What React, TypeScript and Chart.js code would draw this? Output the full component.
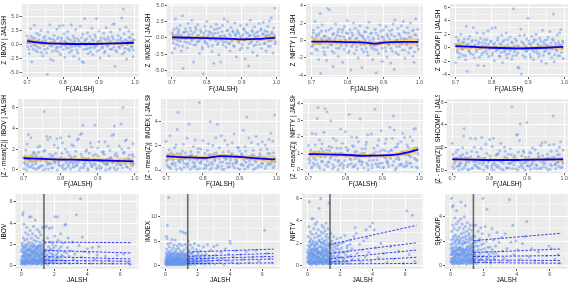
import React, { useEffect, useRef } from 'react';
import { Chart, registerables } from 'chart.js';
Chart.register(...registerables);

type Pt = [number, number];

// ---------------- DATA ----------------
const markets = ['IBOV', 'IMOEX', 'NIFTY', 'SHCOMP'];

// Row 1: Z of market | JALSH vs F(JALSH)
const ibovZ: Pt[] = [[0.700,1.5],[0.702,-0.4],[0.704,0.9],[0.706,-1.6],[0.708,0.3],[0.71,2.8],[0.711,1.4],[0.713,-3.1],[0.715,0.6],[0.717,-0.8],[0.72,3.4],[0.722,1.1],[0.724,-0.2],[0.727,2.0],[0.729,-1.3],[0.731,0.4],[0.734,1.7],[0.736,-0.6],[0.739,2.5],[0.741,0.1],[0.744,-2.0],[0.746,1.2],[0.749,-0.9],[0.751,0.7],[0.754,-1.5],[0.756,-5.3],[0.758,2.2],[0.76,0.2],[0.763,3.5],[0.765,-2.6],[0.767,1.0],[0.77,-0.3],[0.772,-2.8],[0.775,1.6],[0.777,0.5],[0.78,-1.1],[0.783,2.7],[0.785,-0.5],[0.788,1.3],[0.79,3.3],[0.793,-1.8],[0.795,0.8],[0.798,-0.1],[0.80,3.4],[0.803,1.9],[0.805,-2.3],[0.808,0.4],[0.81,-0.7],[0.813,2.3],[0.815,1.0],[0.818,-1.4],[0.82,0.0],[0.823,3.5],[0.825,-0.4],[0.828,1.5],[0.83,-2.1],[0.833,0.6],[0.835,2.6],[0.838,-1.0],[0.84,1.1],[0.843,-0.2],[0.845,-2.6],[0.848,3.3],[0.85,0.3],[0.853,-3.1],[0.855,1.8],[0.857,-3.2],[0.86,4.6],[0.862,0.9],[0.865,-0.8],[0.868,2.1],[0.87,-1.6],[0.873,0.2],[0.875,1.4],[0.878,-0.5],[0.88,2.9],[0.883,-1.9],[0.885,0.7],[0.888,1.7],[0.89,-0.3],[0.893,4.6],[0.895,-1.2],[0.898,0.5],[0.90,2.4],[0.903,-2.4],[0.905,1.2],[0.908,-0.6],[0.91,0.1],[0.913,2.0],[0.915,-1.5],[0.918,0.9],[0.92,3.0],[0.923,-0.2],[0.925,1.3],[0.928,-2.0],[0.93,0.4],[0.933,2.2],[0.935,-0.9],[0.938,3.6],[0.94,1.0],[0.943,3.7],[0.945,-3.9],[0.948,0.3],[0.95,-1.3],[0.953,1.6],[0.955,-0.4],[0.958,2.6],[0.96,0.8],[0.963,4.7],[0.965,-1.7],[0.968,6.3],[0.97,1.9],[0.972,-0.7],[0.975,3.1],[0.977,-2.6],[0.98,0.6],[0.983,2.4],[0.985,-1.1],[0.988,1.2],[0.99,-0.3],[0.993,1.8],[0.995,-2.2],[0.997,0.9]];
const ibovZMore: Pt[] = [[0.701,0.2],[0.705,-0.9],[0.709,0.7],[0.712,-0.3],[0.716,1.2],[0.719,0.0],[0.723,-1.1],[0.726,0.5],[0.73,-0.5],[0.733,0.9],[0.737,0.2],[0.74,-1.4],[0.743,0.6],[0.747,-0.1],[0.75,1.4],[0.753,0.3],[0.757,-0.7],[0.761,1.1],[0.764,-0.2],[0.768,0.4],[0.771,-1.2],[0.774,0.9],[0.778,0.1],[0.781,-0.6],[0.784,1.0],[0.787,-1.3],[0.791,0.3],[0.794,-0.4],[0.797,1.2],[0.801,-0.9],[0.804,0.6],[0.807,-0.2],[0.811,1.3],[0.814,0.2],[0.817,-0.6],[0.821,0.8],[0.824,-1.1],[0.827,0.4],[0.831,1.1],[0.834,-0.3],[0.837,0.0],[0.841,-1.5],[0.844,0.7],[0.847,-0.4],[0.851,1.2],[0.854,0.1],[0.858,-0.9],[0.861,0.5],[0.864,-0.1],[0.867,1.0],[0.871,-0.7],[0.874,0.3],[0.877,-1.3],[0.881,0.9],[0.884,0.0],[0.887,-0.6],[0.891,1.3],[0.894,-0.2],[0.897,0.4],[0.901,-1.0],[0.904,0.7],[0.907,0.2],[0.911,-0.5],[0.914,1.1],[0.917,-1.2],[0.921,0.3],[0.924,-0.3],[0.927,0.9],[0.931,-0.8],[0.934,0.5],[0.937,1.4],[0.941,-0.5],[0.944,0.1],[0.947,-1.1],[0.951,0.8],[0.954,0.2],[0.957,-0.6],[0.961,1.2],[0.964,-0.2],[0.967,0.5],[0.971,-1.4],[0.974,0.9],[0.978,0.0],[0.981,-0.8],[0.984,1.3],[0.987,0.4],[0.991,-0.5],[0.994,0.7],[0.996,-1.0]];
const imoexZ: Pt[] = [[0.70,-2.3],[0.702,0.5],[0.704,-0.8],[0.706,1.3],[0.708,-1.6],[0.71,2.9],[0.712,0.2],[0.714,1.5],[0.716,-0.4],[0.718,0.9],[0.72,-1.2],[0.723,1.9],[0.725,0.4],[0.727,-2.0],[0.73,3.4],[0.732,-4.7],[0.734,0.8],[0.737,-0.6],[0.739,1.4],[0.742,0.1],[0.744,-1.5],[0.747,2.2],[0.749,0.6],[0.752,-0.9],[0.754,1.1],[0.757,2.7],[0.759,-0.2],[0.762,-3.7],[0.764,0.9],[0.767,1.6],[0.769,-1.1],[0.772,0.3],[0.774,2.0],[0.777,-0.5],[0.779,-2.4],[0.782,1.2],[0.784,0.0],[0.787,-1.7],[0.79,-5.5],[0.792,0.7],[0.795,1.8],[0.797,-0.7],[0.80,2.5],[0.802,0.2],[0.805,-1.3],[0.807,1.0],[0.81,-0.3],[0.812,1.7],[0.815,-2.1],[0.817,0.5],[0.82,-3.9],[0.822,1.3],[0.825,-0.1],[0.827,2.1],[0.83,-1.0],[0.832,0.8],[0.835,-2.6],[0.837,1.5],[0.84,-3.7],[0.842,0.3],[0.845,1.9],[0.847,-0.6],[0.85,2.9],[0.852,0.1],[0.855,-1.4],[0.857,1.1],[0.86,2.5],[0.862,-0.8],[0.865,0.6],[0.867,-2.0],[0.87,1.6],[0.872,-0.2],[0.875,0.9],[0.877,-1.2],[0.88,2.3],[0.882,0.4],[0.885,-2.9],[0.887,1.2],[0.89,-0.5],[0.892,0.7],[0.895,-1.8],[0.897,1.9],[0.90,0.0],[0.902,-1.0],[0.905,1.4],[0.907,-0.4],[0.91,-3.2],[0.912,0.9],[0.915,2.0],[0.917,-1.5],[0.92,-4.3],[0.922,0.3],[0.925,2.7],[0.927,-0.7],[0.93,1.2],[0.932,-2.2],[0.935,0.5],[0.937,1.7],[0.94,-1.1],[0.942,0.2],[0.945,-2.7],[0.947,1.0],[0.95,2.2],[0.952,-0.3],[0.955,1.4],[0.957,-1.6],[0.96,0.6],[0.962,2.4],[0.965,-0.9],[0.967,1.1],[0.97,-2.0],[0.972,0.4],[0.975,1.8],[0.977,-0.5],[0.98,2.6],[0.982,-1.3],[0.985,3.1],[0.987,0.7],[0.99,-2.3],[0.992,1.5],[0.995,4.6],[0.997,-0.6]];
const imoexZMore: Pt[] = [[0.701,0.8],[0.705,-0.2],[0.709,0.3],[0.713,-1.0],[0.717,0.6],[0.72,1.2],[0.724,-0.5],[0.728,0.1],[0.731,-1.3],[0.735,0.9],[0.738,-0.1],[0.742,1.0],[0.745,-0.7],[0.749,0.3],[0.752,1.5],[0.756,-0.4],[0.759,0.6],[0.763,-1.1],[0.766,0.0],[0.77,1.3],[0.773,-0.6],[0.777,0.4],[0.78,-0.2],[0.784,0.9],[0.787,-1.4],[0.791,0.2],[0.794,-0.5],[0.798,1.1],[0.801,-0.9],[0.805,0.5],[0.808,-0.1],[0.812,0.8],[0.816,-1.2],[0.819,0.1],[0.823,0.7],[0.826,-0.4],[0.83,1.4],[0.833,-0.8],[0.837,0.2],[0.84,-0.3],[0.844,1.0],[0.847,-1.1],[0.851,0.4],[0.854,-0.6],[0.858,0.0],[0.861,1.2],[0.865,-0.9],[0.868,0.3],[0.872,-0.5],[0.875,1.1],[0.879,-1.3],[0.882,0.6],[0.886,-0.1],[0.889,0.9],[0.893,-0.7],[0.896,0.2],[0.9,-1.5],[0.903,0.5],[0.907,1.3],[0.91,-0.3],[0.914,0.0],[0.917,0.7],[0.921,-0.9],[0.924,0.4],[0.928,-0.4],[0.931,1.0],[0.935,-1.2],[0.938,0.1],[0.942,0.8],[0.945,-0.6],[0.949,0.3],[0.952,-1.0],[0.956,1.2],[0.959,-0.2],[0.963,0.6],[0.966,-0.8],[0.97,0.2],[0.973,1.0],[0.977,-1.3],[0.98,0.5],[0.984,-0.4],[0.987,0.9],[0.991,-0.1],[0.994,0.4],[0.996,-0.9]];
const niftyZ: Pt[] = [[0.70,-1.5],[0.702,0.4],[0.704,-0.6],[0.706,1.2],[0.708,0.1],[0.71,2.2],[0.712,-1.0],[0.714,0.7],[0.716,-0.3],[0.718,1.5],[0.72,-2.2],[0.722,0.9],[0.724,3.1],[0.726,-3.8],[0.728,0.2],[0.73,1.8],[0.733,-0.8],[0.735,0.5],[0.737,-1.6],[0.74,1.1],[0.742,-2.3],[0.745,3.7],[0.747,0.3],[0.75,3.5],[0.752,-0.5],[0.755,1.4],[0.757,-1.2],[0.76,-3.0],[0.762,0.8],[0.765,-0.1],[0.767,1.9],[0.77,-0.9],[0.772,0.6],[0.775,-1.8],[0.777,1.3],[0.78,0.0],[0.782,-0.6],[0.785,1.0],[0.787,-2.5],[0.79,0.4],[0.792,1.6],[0.795,-0.3],[0.797,0.9],[0.80,2.3],[0.802,-1.4],[0.805,0.2],[0.807,1.2],[0.81,-3.4],[0.812,-0.7],[0.815,0.6],[0.817,2.0],[0.82,-0.2],[0.822,1.4],[0.825,-1.1],[0.827,0.3],[0.83,-2.0],[0.832,0.8],[0.835,1.7],[0.837,-0.5],[0.84,-3.1],[0.842,0.5],[0.845,-1.3],[0.847,1.0],[0.85,0.1],[0.852,-0.9],[0.855,1.5],[0.857,-1.7],[0.86,2.1],[0.862,0.0],[0.865,-0.6],[0.867,0.9],[0.87,-2.2],[0.872,0.3],[0.875,-1.0],[0.877,1.3],[0.88,-3.7],[0.882,-0.4],[0.885,0.6],[0.887,-1.5],[0.89,1.8],[0.892,-0.2],[0.895,0.4],[0.897,-2.4],[0.90,1.2],[0.902,0.1],[0.905,-0.8],[0.907,1.6],[0.91,-1.9],[0.912,0.5],[0.915,-0.4],[0.917,1.1],[0.92,-2.6],[0.922,0.7],[0.925,-1.2],[0.927,1.9],[0.93,-3.3],[0.932,2.4],[0.935,0.0],[0.937,-0.7],[0.94,1.4],[0.942,-1.6],[0.945,0.6],[0.947,-0.3],[0.95,1.7],[0.952,-1.1],[0.955,2.2],[0.957,0.2],[0.96,-2.0],[0.962,0.9],[0.965,-0.5],[0.967,1.5],[0.97,-1.4],[0.972,0.4],[0.975,2.0],[0.977,-0.8],[0.98,1.1],[0.982,-1.8],[0.985,-2.5],[0.987,0.7],[0.99,2.5],[0.992,-0.2],[0.995,1.3],[0.997,-1.0]];
const niftyZMore: Pt[] = [[0.701,-0.7],[0.705,0.9],[0.709,-0.2],[0.713,0.4],[0.717,-1.1],[0.72,0.6],[0.724,-0.4],[0.728,1.1],[0.731,-0.1],[0.735,-1.3],[0.738,0.5],[0.742,0.0],[0.745,-0.8],[0.749,1.2],[0.752,0.2],[0.756,-0.5],[0.759,0.7],[0.763,-1.4],[0.766,0.3],[0.77,-0.2],[0.773,1.0],[0.777,-0.9],[0.78,0.5],[0.784,-0.3],[0.787,1.3],[0.791,-1.0],[0.794,0.1],[0.798,-0.6],[0.801,0.8],[0.805,-1.2],[0.808,0.3],[0.812,0.9],[0.816,-0.4],[0.819,-1.5],[0.823,0.2],[0.826,-0.7],[0.83,1.1],[0.833,-0.1],[0.837,0.6],[0.84,-1.0],[0.844,0.3],[0.847,-0.5],[0.851,1.0],[0.854,-1.3],[0.858,0.4],[0.861,-0.3],[0.865,0.8],[0.868,-0.9],[0.872,0.1],[0.875,-0.6],[0.879,0.9],[0.882,-1.1],[0.886,0.2],[0.889,-0.4],[0.893,1.1],[0.896,-0.9],[0.9,0.4],[0.903,-0.2],[0.907,-1.2],[0.91,0.7],[0.914,-0.5],[0.917,0.2],[0.921,-0.9],[0.924,1.2],[0.928,-0.3],[0.931,0.5],[0.935,-1.4],[0.938,0.1],[0.942,0.8],[0.945,-0.7],[0.949,0.3],[0.952,-0.4],[0.956,1.0],[0.959,-1.1],[0.963,0.2],[0.966,-0.3],[0.97,0.9],[0.973,-0.9],[0.977,0.4],[0.98,-0.2],[0.984,1.2],[0.987,-1.3],[0.991,0.6],[0.994,-0.6],[0.996,0.1]];
const shcompZ: Pt[] = [[0.70,-2.2],[0.702,1.6],[0.704,0.3],[0.706,-0.7],[0.708,1.0],[0.71,-1.4],[0.712,0.5],[0.715,2.0],[0.717,-0.2],[0.719,0.8],[0.721,-1.1],[0.724,1.3],[0.726,0.1],[0.728,-1.8],[0.73,3.2],[0.732,-3.5],[0.735,0.6],[0.737,-0.4],[0.739,1.7],[0.742,-0.9],[0.744,0.2],[0.747,1.1],[0.749,3.0],[0.752,-1.5],[0.754,0.4],[0.757,-0.6],[0.759,2.2],[0.762,-2.6],[0.764,0.9],[0.767,-0.1],[0.769,1.4],[0.772,-1.0],[0.774,0.3],[0.777,2.1],[0.779,-2.7],[0.782,0.7],[0.784,-0.5],[0.787,1.2],[0.79,2.5],[0.792,-1.3],[0.795,0.0],[0.797,0.9],[0.80,2.9],[0.802,-0.8],[0.805,0.5],[0.807,-1.9],[0.81,3.0],[0.812,0.2],[0.815,-0.3],[0.817,1.5],[0.82,-1.2],[0.822,0.6],[0.825,-0.7],[0.827,1.9],[0.83,-2.2],[0.832,0.1],[0.835,1.1],[0.837,-0.4],[0.84,2.2],[0.842,-1.5],[0.845,0.4],[0.847,-0.9],[0.85,1.6],[0.852,0.0],[0.855,-1.7],[0.857,0.8],[0.86,5.8],[0.862,-0.6],[0.865,1.3],[0.867,-1.1],[0.87,0.3],[0.872,-2.9],[0.875,-3.0],[0.877,1.8],[0.88,2.8],[0.882,-3.9],[0.885,-0.2],[0.887,0.7],[0.89,1.9],[0.892,-1.4],[0.895,0.2],[0.897,-0.5],[0.90,4.4],[0.902,1.0],[0.905,-1.0],[0.907,0.5],[0.91,1.7],[0.912,-0.3],[0.915,-1.8],[0.917,1.2],[0.92,0.0],[0.922,2.0],[0.925,-0.8],[0.927,0.6],[0.93,-1.3],[0.932,1.4],[0.935,0.3],[0.937,-2.0],[0.94,2.6],[0.942,0.8],[0.945,-0.6],[0.947,1.1],[0.95,-2.3],[0.952,0.4],[0.955,1.6],[0.957,-0.9],[0.96,2.4],[0.962,0.1],[0.965,-1.5],[0.967,1.3],[0.97,5.0],[0.972,-2.1],[0.975,0.7],[0.977,-0.3],[0.98,1.9],[0.982,-1.2],[0.985,0.5],[0.987,2.2],[0.99,2.7],[0.992,-0.7],[0.995,1.0],[0.997,-1.6]];
const shcompZMore: Pt[] = [[0.701,0.5],[0.705,-0.4],[0.709,1.2],[0.713,-0.9],[0.717,0.2],[0.72,-0.2],[0.724,0.8],[0.728,-1.2],[0.731,0.4],[0.735,1.3],[0.738,-0.6],[0.742,0.1],[0.745,0.9],[0.749,-1.0],[0.752,0.3],[0.756,1.1],[0.759,-0.3],[0.763,0.6],[0.766,-1.4],[0.77,0.0],[0.773,0.8],[0.777,-0.7],[0.78,1.2],[0.784,0.2],[0.787,-0.9],[0.791,0.5],[0.794,-0.2],[0.798,1.0],[0.801,-1.1],[0.805,0.1],[0.808,0.7],[0.812,-0.5],[0.816,1.1],[0.819,-0.1],[0.823,-1.3],[0.826,0.4],[0.83,0.9],[0.833,-0.6],[0.837,0.2],[0.84,-1.0],[0.844,1.2],[0.847,0.0],[0.851,-0.4],[0.854,0.8],[0.858,-1.2],[0.861,0.3],[0.865,-0.3],[0.868,1.0],[0.872,-0.8],[0.875,0.2],[0.879,-0.1],[0.882,0.9],[0.886,-1.1],[0.889,0.4],[0.893,-0.5],[0.896,1.3],[0.9,-0.2],[0.903,0.6],[0.907,-1.4],[0.91,0.1],[0.914,0.8],[0.917,-0.6],[0.921,1.1],[0.924,-0.3],[0.928,0.3],[0.931,-0.9],[0.935,1.0],[0.938,0.0],[0.942,-1.1],[0.945,0.5],[0.949,-0.4],[0.952,1.2],[0.956,0.2],[0.959,-0.8],[0.963,0.7],[0.966,-0.2],[0.97,1.1],[0.973,-1.0],[0.977,0.3],[0.98,-0.5],[0.984,0.9],[0.987,-1.2],[0.991,0.4],[0.994,-0.1],[0.996,0.8]];

// Loess fits (blue line) with confidence half-width (orange band)
const smoothF = [0.70, 0.75, 0.80, 0.85, 0.875, 0.90, 0.95, 0.997];
const ibovFit1 = [0.58, 0.22, 0.12, 0.08, 0.08, 0.1, 0.18, 0.3];
const ibovSe1 = [0.55, 0.32, 0.27, 0.27, 0.27, 0.27, 0.3, 0.5];
const imoexFit1 = [0.08, 0.02, -0.05, -0.1, -0.16, -0.22, -0.15, 0.05];
const imoexSe1 = [0.45, 0.3, 0.27, 0.27, 0.27, 0.27, 0.3, 0.45];
const niftyFit1 = [-0.12, -0.14, -0.18, -0.25, -0.36, -0.24, -0.16, -0.15];
const niftySe1 = [0.45, 0.32, 0.28, 0.28, 0.28, 0.28, 0.32, 0.45];
const shcompFit1 = [0.22, 0.12, 0.0, -0.08, -0.1, -0.08, 0.0, 0.12];
const shcompSe1 = [0.45, 0.3, 0.27, 0.27, 0.27, 0.27, 0.3, 0.45];

const ibovFit2 = [1.12, 1.06, 1.0, 0.97, 0.95, 0.93, 0.88, 0.82];
const ibovSe2 = [0.35, 0.22, 0.19, 0.19, 0.19, 0.19, 0.22, 0.33];
const imoexFit2 = [1.12, 1.05, 1.0, 1.14, 1.13, 1.08, 0.96, 0.88];
const imoexSe2 = [0.33, 0.2, 0.17, 0.17, 0.17, 0.17, 0.2, 0.33];
const niftyFit2 = [0.96, 0.95, 0.92, 0.86, 0.87, 0.88, 0.98, 1.24];
const niftySe2 = [0.22, 0.14, 0.12, 0.12, 0.12, 0.12, 0.14, 0.24];
const shcompFit2 = [0.97, 0.93, 0.9, 0.9, 0.9, 0.92, 0.94, 0.97];
const shcompSe2 = [0.24, 0.15, 0.13, 0.13, 0.13, 0.13, 0.15, 0.24];

// Row 3: |market| vs |JALSH|
const ibovJ: Pt[] = [[0.02,0.1],[0.04,0.6],[0.05,1.3],[0.06,2.1],[0.08,0.3],[0.09,4.8],[0.1,1.7],[0.11,0.9],[0.12,5.0],[0.13,2.6],[0.14,0.2],[0.16,1.1],[0.17,3.9],[0.18,0.5],[0.2,1.9],[0.21,0.1],[0.22,2.4],[0.24,0.8],[0.25,1.4],[0.27,3.1],[0.28,0.3],[0.3,2.0],[0.31,0.6],[0.33,1.2],[0.34,3.6],[0.36,0.1],[0.37,2.5],[0.39,0.9],[0.4,1.6],[0.42,0.4],[0.43,2.9],[0.45,1.0],[0.46,0.2],[0.48,2.2],[0.5,4.6],[0.51,0.7],[0.53,1.5],[0.54,3.3],[0.56,0.3],[0.57,1.9],[0.59,0.9],[0.6,4.6],[0.62,2.6],[0.63,0.1],[0.65,1.3],[0.66,2.1],[0.68,0.5],[0.69,3.0],[0.71,1.1],[0.72,0.2],[0.74,1.8],[0.75,3.7],[0.77,0.6],[0.78,2.4],[0.8,1.4],[0.81,0.3],[0.83,2.0],[0.85,4.3],[0.86,0.8],[0.88,1.6],[0.89,2.8],[0.91,0.4],[0.92,1.2],[0.94,2.3],[0.95,0.1],[0.97,3.4],[0.98,0.9],[1.0,1.7],[1.02,0.5],[1.03,2.6],[1.05,1.0],[1.06,0.2],[1.08,1.9],[1.1,3.2],[1.11,0.7],[1.13,1.4],[1.14,2.2],[1.16,0.3],[1.18,1.1],[1.19,2.9],[1.21,0.6],[1.22,1.6],[1.24,0.1],[1.26,2.0],[1.27,0.9],[1.29,3.6],[1.3,1.3],[1.32,0.4],[1.34,2.4],
  [0.03,0.3],[0.07,0.8],[0.15,0.4],[0.19,1.2],[0.23,0.2],[0.26,1.0],[0.32,0.5],[0.35,1.5],[0.38,0.3],[0.41,1.1],[0.44,0.6],[0.47,1.4],[0.52,0.2],[0.55,1.0],[0.58,0.5],[0.61,1.2],[0.64,0.4],[0.67,1.6],[0.7,0.7],[0.73,0.3],[0.76,1.2],[0.79,0.5],[0.82,0.9],[0.84,0.2],[0.87,1.3],[0.9,0.6],[0.93,1.7],[0.96,0.4],[0.99,1.1],[1.01,0.3],[1.04,1.5],[1.07,0.6],[1.09,0.2],[1.12,1.0],[1.15,0.5],[1.17,1.8],[1.2,0.4],[1.23,1.1],[1.25,0.6],[1.28,0.2],[1.31,1.0],[1.33,0.7],
  [1.37,0.3],[1.39,1.2],[1.41,3.6],[1.43,0.7],[1.45,2.1],[1.47,0.2],[1.5,1.5],[1.52,3.7],[1.55,0.5],[1.57,1.0],[1.6,2.6],[1.62,0.1],[1.65,1.8],[1.68,0.6],[1.7,3.5],[1.73,1.2],[1.75,0.3],[1.78,2.2],[1.8,0.8],[1.83,1.5],[1.86,3.6],[1.88,0.4],[1.9,2.0],[1.93,1.0],[1.96,0.2],[2.0,1.4],[2.03,2.8],[2.05,4.6],[2.08,0.6],[2.1,1.9],[2.14,0.3],[2.18,1.1],[2.2,4.6],[2.23,2.4],[2.27,0.8],[2.3,1.6],[2.35,0.2],[2.4,3.0],[2.44,1.0],[2.5,0.5],[2.55,2.1],[2.6,1.3],[2.65,3.8],[2.7,3.9],[2.72,0.4],[2.8,1.7],[2.85,2.6],[2.9,0.9],[2.95,0.2],[3.0,1.4],[3.1,2.2],[3.15,0.6],[3.25,1.1],[3.35,4.8],[3.4,0.3],[3.5,1.9],[3.6,6.3],[3.65,0.8],[3.7,2.7],[3.8,1.3],[3.9,0.4],[4.0,1.6],[4.1,1.2],[4.2,0.2],[4.3,1.7],[4.45,0.6],[4.6,1.0],[4.7,1.8],[4.9,0.3],[5.1,0.9],[5.3,0.5],[5.5,0.2],[5.8,1.0],[6.0,0.4],[6.2,1.1],[6.45,0.3],[6.6,0.1]];
const ibovJMore: Pt[] = [[0.01,0.5],[0.03,1.5],[0.05,0.2],[0.07,1.9],[0.09,0.9],[0.11,0.4],[0.13,1.3],[0.15,0.7],[0.17,1.6],[0.19,0.2],[0.21,0.9],[0.23,1.7],[0.25,0.4],[0.27,1.2],[0.29,0.7],[0.31,1.8],[0.33,0.3],[0.35,0.9],[0.37,1.4],[0.39,0.5],[0.41,2.0],[0.43,0.8],[0.45,1.5],[0.47,0.3],[0.49,1.0],[0.51,1.7],[0.53,0.4],[0.55,1.3],[0.57,0.8],[0.59,1.5],[0.61,0.3],[0.63,1.0],[0.65,1.8],[0.67,0.6],[0.69,1.3],[0.71,0.4],[0.73,1.9],[0.75,0.8],[0.77,1.4],[0.79,0.2],[0.81,1.1],[0.83,0.6],[0.85,1.7],[0.87,0.3],[0.89,1.0],[0.91,1.5],[0.93,0.5],[0.95,1.2],[0.97,0.2],[0.99,1.8],[1.01,0.8],[1.03,1.3],[1.05,0.5],[1.07,1.9],[1.09,0.9],[1.11,0.3],[1.13,1.6],[1.15,0.8],[1.17,1.2],[1.19,0.4],[1.21,1.9],[1.23,0.7],[1.25,1.4],[1.27,0.3],[1.29,1.1],[1.31,1.7],[1.33,0.5],[1.35,1.3],
  [1.38,0.9],[1.42,0.5],[1.46,1.3],[1.5,0.3],[1.54,1.0],[1.58,0.6],[1.63,1.4],[1.67,0.3],[1.72,0.8],[1.77,1.6],[1.82,0.4],[1.87,1.1],[1.92,0.6],[1.98,1.7],[2.04,0.4],[2.1,1.0],[2.16,0.7],[2.25,1.3],[2.33,0.5],[2.42,1.8],[2.52,0.9],[2.62,0.3],[2.75,1.2]];
const imoexJ: Pt[] = [[0.02,0.2],[0.03,1.1],[0.04,2.6],[0.05,6.0],[0.06,0.5],[0.07,3.4],[0.08,1.6],[0.09,0.1],[0.1,5.5],[0.11,2.1],[0.12,8.2],[0.13,0.8],[0.14,4.4],[0.15,1.3],[0.16,0.3],[0.18,2.9],[0.19,0.6],[0.2,13.9],[0.21,1.8],[0.22,0.2],[0.24,3.8],[0.25,1.0],[0.26,2.4],[0.28,0.4],[0.29,1.5],[0.3,4.6],[0.32,0.1],[0.33,2.0],[0.35,0.7],[0.36,3.1],[0.38,1.2],[0.39,0.3],[0.4,5.3],[0.41,2.5],[0.43,0.9],[0.44,1.7],[0.46,0.2],[0.47,3.6],[0.49,1.1],[0.5,0.5],[0.52,2.2],[0.53,4.2],[0.55,0.8],[0.56,1.4],[0.58,0.1],[0.59,2.8],[0.6,5.2],[0.62,1.0],[0.63,0.4],[0.65,1.9],[0.66,3.3],[0.68,0.6],[0.69,1.3],[0.71,2.6],[0.72,0.2],[0.74,4.0],[0.75,1.6],[0.77,0.7],[0.78,2.1],[0.8,0.3],[0.81,3.5],[0.83,1.1],[0.84,0.5],[0.86,2.4],[0.87,4.4],[0.89,0.9],[0.9,1.8],[0.92,0.1],[0.93,3.0],[0.95,7.0],[0.96,1.2],[0.98,0.4],[0.99,2.3],[1.01,0.8],[1.02,4.1],[1.04,1.5],[1.05,0.2],[1.07,2.7],[1.08,1.0],[1.1,6.8],[1.11,0.6],[1.13,1.9],[1.14,3.2],[1.16,0.3],[1.17,1.4],[1.19,2.2],[1.2,0.7],[1.22,4.3],[1.23,1.1],[1.25,6.6],[1.26,0.4],[1.28,2.0],[1.29,0.9],[1.31,3.6],[1.32,1.5],[1.34,0.2],
  [0.01,0.6],[0.06,1.4],[0.11,0.4],[0.17,1.0],[0.23,0.6],[0.27,1.3],[0.31,0.3],[0.34,0.9],[0.37,1.6],[0.42,0.5],[0.45,1.2],[0.48,0.3],[0.51,0.9],[0.54,1.5],[0.57,0.4],[0.61,0.7],[0.64,1.2],[0.67,0.3],[0.7,0.9],[0.73,1.4],[0.76,0.4],[0.79,1.0],[0.82,0.6],[0.85,1.3],[0.88,0.2],[0.91,0.8],[0.94,1.5],[0.97,0.6],[1.0,1.1],[1.03,0.3],[1.06,1.3],[1.09,0.5],[1.12,1.0],[1.15,0.7],[1.18,0.2],[1.21,1.2],[1.24,0.5],[1.27,1.0],[1.3,0.3],[1.33,0.8],
  [1.37,0.4],[1.39,2.3],[1.42,5.0],[1.44,1.0],[1.46,3.1],[1.49,0.2],[1.51,1.6],[1.54,4.2],[1.56,0.7],[1.59,2.5],[1.62,1.2],[1.64,0.3],[1.67,3.6],[1.7,1.8],[1.72,0.5],[1.75,2.8],[1.78,1.1],[1.8,4.5],[1.83,0.2],[1.86,2.0],[1.89,0.9],[1.92,3.3],[1.95,1.4],[1.98,0.4],[2.02,2.6],[2.05,4.1],[2.08,0.8],[2.12,1.7],[2.15,3.0],[2.18,0.3],[2.22,1.2],[2.26,2.2],[2.3,0.6],[2.35,3.8],[2.4,1.5],[2.45,0.2],[2.5,2.4],[2.56,1.0],[2.6,4.3],[2.66,0.5],[2.72,1.9],[2.8,3.1],[2.86,0.9],[2.92,1.6],[3.0,3.9],[3.05,0.3],[3.12,2.1],[3.2,4.2],[3.28,1.2],[3.35,0.6],[3.45,2.7],[3.55,1.5],[3.62,0.2],[3.7,3.4],[3.8,1.0],[3.9,2.3],[4.0,5.0],[4.02,4.5],[4.1,0.7],[4.2,1.8],[4.35,3.0],[4.5,0.4],[4.65,2.2],[4.8,1.3],[5.0,2.8],[5.2,0.6],[5.4,1.7],[5.6,3.1],[5.8,0.9],[6.0,1.8],[6.15,7.2],[6.3,2.5],[6.45,1.5],[6.6,0.5]];
const imoexJMore: Pt[] = [[0.01,1.0],[0.03,0.3],[0.05,1.7],[0.07,0.9],[0.09,2.3],[0.11,0.5],[0.13,1.4],[0.15,0.2],[0.17,2.0],[0.19,1.1],[0.21,0.4],[0.23,1.6],[0.25,2.6],[0.27,0.7],[0.29,1.2],[0.31,2.1],[0.33,0.5],[0.35,1.8],[0.37,0.2],[0.39,1.0],[0.41,2.4],[0.43,0.6],[0.45,1.5],[0.47,0.9],[0.49,2.0],[0.51,0.3],[0.53,1.3],[0.55,2.6],[0.57,0.7],[0.59,1.6],[0.61,0.4],[0.63,2.2],[0.65,1.0],[0.67,0.2],[0.69,1.8],[0.71,0.8],[0.73,2.4],[0.75,0.5],[0.77,1.4],[0.79,2.0],[0.81,0.6],[0.83,1.7],[0.85,0.3],[0.87,1.2],[0.89,2.3],[0.91,0.5],[0.93,1.9],[0.95,0.9],[0.97,2.6],[0.99,0.3],[1.01,1.5],[1.03,2.1],[1.05,0.7],[1.07,1.3],[1.09,0.2],[1.11,2.4],[1.13,0.8],[1.15,1.7],[1.17,0.5],[1.19,2.0],[1.21,0.4],[1.23,1.6],[1.25,0.9],[1.27,2.5],[1.29,0.6],[1.31,1.4],[1.33,2.2],[1.35,0.5],
  [1.38,1.3],[1.42,0.6],[1.46,2.0],[1.5,0.9],[1.54,0.3],[1.58,1.5],[1.63,2.4],[1.67,0.7],[1.72,1.2],[1.77,0.4],[1.82,1.9],[1.87,0.8],[1.92,1.4],[1.98,0.5],[2.04,2.2],[2.1,0.9],[2.16,1.6],[2.25,0.4],[2.33,1.1],[2.42,2.0],[2.52,0.7],[2.62,1.4],[2.75,0.3]];
const niftyJ: Pt[] = [[0.02,0.3],[0.03,1.4],[0.05,2.6],[0.06,0.7],[0.08,3.5],[0.1,5.7],[0.11,1.0],[0.12,2.1],[0.14,0.2],[0.15,1.7],[0.17,3.0],[0.18,0.5],[0.2,2.4],[0.21,1.2],[0.23,0.1],[0.24,1.9],[0.26,4.2],[0.27,0.8],[0.29,2.8],[0.3,1.4],[0.32,0.3],[0.33,2.2],[0.35,4.2],[0.36,1.0],[0.38,0.4],[0.39,3.3],[0.41,1.6],[0.42,0.2],[0.44,2.5],[0.45,0.9],[0.47,1.8],[0.48,3.7],[0.5,0.5],[0.51,1.3],[0.53,2.9],[0.54,0.1],[0.56,2.0],[0.57,3.9],[0.59,0.7],[0.6,1.5],[0.62,2.6],[0.63,0.3],[0.65,1.1],[0.66,3.2],[0.68,0.6],[0.69,2.3],[0.71,5.1],[0.72,1.2],[0.74,0.2],[0.75,2.7],[0.77,1.7],[0.78,0.5],[0.8,6.0],[0.81,2.1],[0.83,0.9],[0.84,3.0],[0.86,0.3],[0.87,1.6],[0.89,2.4],[0.9,3.6],[0.92,0.6],[0.93,1.4],[0.95,2.9],[0.96,0.1],[0.98,1.9],[0.99,3.4],[1.01,0.8],[1.02,2.2],[1.04,1.2],[1.05,0.4],[1.07,3.1],[1.08,1.7],[1.1,0.2],[1.11,2.6],[1.13,1.0],[1.14,3.8],[1.16,0.5],[1.17,1.5],[1.19,2.8],[1.2,0.3],[1.22,2.0],[1.23,1.1],[1.25,3.3],[1.26,0.7],[1.28,1.8],[1.29,2.5],[1.31,0.4],[1.32,5.6],[1.34,1.3],
  [0.01,0.8],[0.04,0.4],[0.07,1.1],[0.09,0.2],[0.13,0.9],[0.16,0.4],[0.19,1.3],[0.22,0.6],[0.25,1.0],[0.28,0.2],[0.31,0.8],[0.34,1.2],[0.37,0.5],[0.4,1.0],[0.43,0.3],[0.46,1.4],[0.49,0.7],[0.52,0.2],[0.55,1.1],[0.58,0.4],[0.61,0.9],[0.64,1.3],[0.67,0.2],[0.7,0.8],[0.73,0.5],[0.76,1.2],[0.79,0.3],[0.82,1.0],[0.85,0.6],[0.88,1.1],[0.91,0.2],[0.94,0.7],[0.97,1.3],[1.0,0.4],[1.03,1.0],[1.06,0.6],[1.09,1.4],[1.12,0.3],[1.15,0.9],[1.18,0.5],[1.21,1.2],[1.24,0.2],[1.27,0.9],[1.3,0.6],[1.33,0.2],
  [1.37,0.5],[1.39,1.8],[1.41,0.2],[1.44,2.9],[1.46,1.0],[1.49,0.6],[1.51,2.2],[1.54,1.4],[1.57,0.3],[1.6,2.6],[1.62,0.9],[1.65,1.7],[1.68,0.4],[1.71,2.0],[1.74,1.2],[1.77,0.2],[1.8,2.4],[1.83,0.8],[1.86,1.5],[1.89,0.5],[1.92,1.9],[1.96,1.1],[2.0,0.3],[2.03,2.5],[2.07,0.7],[2.1,1.6],[2.14,0.2],[2.18,1.2],[2.22,2.1],[2.26,0.6],[2.3,2.7],[2.35,1.0],[2.4,0.4],[2.45,1.8],[2.5,1.3],[2.55,0.2],[2.6,2.3],[2.66,0.9],[2.72,1.5],[2.78,0.5],[2.85,2.6],[2.93,3.4],[3.0,2.9],[3.05,1.1],[3.12,0.6],[3.2,1.9],[3.28,0.3],[3.35,1.4],[3.45,2.2],[3.55,0.8],[3.6,3.2],[3.65,2.5],[3.75,1.2],[3.85,3.5],[3.9,0.4],[4.0,3.8],[4.1,3.2],[4.2,1.6],[4.35,0.7],[4.5,2.0],[4.7,1.1],[4.9,0.3],[5.1,1.7],[5.3,0.6],[5.6,1.3],[5.9,0.2],[6.1,4.9],[6.25,1.0],[6.45,4.5],[6.6,0.4]];
const niftyJMore: Pt[] = [[0.01,1.2],[0.03,0.6],[0.05,1.8],[0.07,0.3],[0.09,1.0],[0.11,1.6],[0.13,0.5],[0.15,2.2],[0.17,0.8],[0.19,1.4],[0.21,0.3],[0.23,1.1],[0.25,1.9],[0.27,0.6],[0.29,1.5],[0.31,0.2],[0.33,1.0],[0.35,2.0],[0.37,0.7],[0.39,1.3],[0.41,0.4],[0.43,1.8],[0.45,0.9],[0.47,1.5],[0.49,0.3],[0.51,2.1],[0.53,0.7],[0.55,1.4],[0.57,0.5],[0.59,1.1],[0.61,1.9],[0.63,0.8],[0.65,1.6],[0.67,0.4],[0.69,1.2],[0.71,0.7],[0.73,2.2],[0.75,0.3],[0.77,1.1],[0.79,1.7],[0.81,0.6],[0.83,1.3],[0.85,2.0],[0.87,0.4],[0.89,1.0],[0.91,1.6],[0.93,0.3],[0.95,1.2],[0.97,0.8],[0.99,2.1],[1.01,0.5],[1.03,1.5],[1.05,0.9],[1.07,1.9],[1.09,0.3],[1.11,1.3],[1.13,0.6],[1.15,2.3],[1.17,0.9],[1.19,1.4],[1.21,0.5],[1.23,1.8],[1.25,0.2],[1.27,1.2],[1.29,0.8],[1.31,1.6],[1.33,0.4],[1.35,2.0],
  [1.38,1.1],[1.42,0.4],[1.46,1.6],[1.5,0.8],[1.54,1.9],[1.58,0.3],[1.63,1.2],[1.67,0.7],[1.72,1.5],[1.77,0.5],[1.82,1.8],[1.87,0.9],[1.92,0.3],[1.98,1.4],[2.04,0.8],[2.1,2.0],[2.16,0.5],[2.25,1.2],[2.33,0.3],[2.42,1.6],[2.52,0.8],[2.62,1.9],[2.75,0.6]];
const shcompJ: Pt[] = [[0.02,0.4],[0.03,1.7],[0.05,5.5],[0.06,0.9],[0.07,2.8],[0.09,0.2],[0.1,4.8],[0.11,1.4],[0.13,3.3],[0.14,0.6],[0.16,4.9],[0.17,2.2],[0.19,0.1],[0.2,1.1],[0.22,3.0],[0.23,0.5],[0.25,1.9],[0.26,3.9],[0.28,0.8],[0.29,2.5],[0.31,0.3],[0.32,1.5],[0.34,3.4],[0.36,4.5],[0.37,1.0],[0.39,2.1],[0.4,0.2],[0.42,2.9],[0.43,1.3],[0.45,0.6],[0.46,3.6],[0.48,1.8],[0.49,0.1],[0.51,2.4],[0.52,0.9],[0.54,3.1],[0.55,1.5],[0.57,0.4],[0.58,2.0],[0.6,3.8],[0.62,5.2],[0.63,1.2],[0.65,0.3],[0.66,2.6],[0.68,1.0],[0.69,3.4],[0.71,0.5],[0.72,1.7],[0.74,2.3],[0.75,0.2],[0.77,3.0],[0.78,1.3],[0.8,0.7],[0.81,2.7],[0.83,4.0],[0.84,1.1],[0.86,0.3],[0.87,1.9],[0.89,3.2],[0.9,4.9],[0.92,0.8],[0.93,2.2],[0.95,1.4],[0.96,0.1],[0.98,2.8],[0.99,1.0],[1.01,3.5],[1.02,0.5],[1.04,1.6],[1.05,2.5],[1.07,0.3],[1.08,1.2],[1.1,3.0],[1.11,0.7],[1.13,1.9],[1.14,2.6],[1.16,0.2],[1.17,1.4],[1.19,3.3],[1.2,0.9],[1.22,2.1],[1.23,0.4],[1.25,1.7],[1.26,2.9],[1.28,0.6],[1.29,1.2],[1.31,2.4],[1.32,0.3],[1.34,1.8],
  [0.01,0.9],[0.04,0.3],[0.08,1.2],[0.12,0.5],[0.15,1.0],[0.18,0.3],[0.21,0.7],[0.24,1.3],[0.27,0.4],[0.3,0.9],[0.33,0.2],[0.35,1.2],[0.38,0.6],[0.41,1.0],[0.44,0.3],[0.47,0.8],[0.5,1.3],[0.53,0.5],[0.56,1.0],[0.59,0.2],[0.61,0.8],[0.64,1.4],[0.67,0.5],[0.7,1.1],[0.73,0.3],[0.76,0.9],[0.79,1.2],[0.82,0.4],[0.85,1.0],[0.88,0.6],[0.91,1.3],[0.94,0.4],[0.97,0.8],[1.0,0.2],[1.03,1.1],[1.06,0.6],[1.09,0.9],[1.12,0.3],[1.15,1.2],[1.18,0.5],[1.21,1.0],[1.24,0.2],[1.27,0.9],[1.3,0.5],[1.33,1.1],
  [1.37,0.6],[1.39,3.3],[1.41,1.2],[1.44,0.3],[1.47,2.4],[1.5,0.9],[1.52,3.3],[1.55,1.6],[1.58,0.2],[1.61,2.0],[1.64,0.7],[1.67,2.8],[1.7,1.3],[1.73,0.4],[1.76,2.2],[1.79,1.0],[1.82,3.1],[1.85,0.5],[1.88,1.7],[1.92,2.6],[1.96,5.5],[2.0,0.8],[2.04,1.4],[2.08,3.2],[2.12,0.3],[2.16,2.0],[2.2,4.6],[2.24,1.1],[2.28,0.6],[2.33,2.5],[2.38,1.5],[2.43,0.2],[2.5,3.0],[2.55,1.0],[2.6,2.1],[2.66,0.5],[2.72,1.6],[2.8,2.7],[2.86,0.8],[2.93,1.9],[3.0,0.3],[3.08,2.3],[3.15,1.2],[3.22,0.6],[3.3,2.6],[3.4,1.4],[3.5,0.4],[3.56,5.4],[3.65,1.9],[3.76,3.3],[3.85,0.9],[3.95,2.0],[4.05,1.3],[4.2,0.5],[4.35,1.8],[4.5,2.4],[4.6,3.6],[4.75,0.7],[4.9,1.4],[5.1,0.4],[5.3,1.1],[5.55,0.3],[5.8,0.8],[5.95,1.6],[6.1,1.4],[6.3,0.5],[6.5,0.9],[6.62,0.2]];
const shcompJMore: Pt[] = [[0.01,1.4],[0.03,0.6],[0.05,2.1],[0.07,0.3],[0.09,1.1],[0.11,1.8],[0.13,0.4],[0.15,1.5],[0.17,0.9],[0.19,2.4],[0.21,0.3],[0.23,1.2],[0.25,0.7],[0.27,2.0],[0.29,1.1],[0.31,0.5],[0.33,1.7],[0.35,0.8],[0.37,2.3],[0.39,0.4],[0.41,1.4],[0.43,0.9],[0.45,2.1],[0.47,0.3],[0.49,1.3],[0.51,0.6],[0.53,1.9],[0.55,0.9],[0.57,1.5],[0.59,0.4],[0.61,2.2],[0.63,0.7],[0.65,1.3],[0.67,0.2],[0.69,1.8],[0.71,0.9],[0.73,1.4],[0.75,0.5],[0.77,2.0],[0.79,0.7],[0.81,1.2],[0.83,0.3],[0.85,1.8],[0.87,0.9],[0.89,2.4],[0.91,0.5],[0.93,1.3],[0.95,0.7],[0.97,1.9],[0.99,0.4],[1.01,1.5],[1.03,0.8],[1.05,2.1],[1.07,0.5],[1.09,1.3],[1.11,0.9],[1.13,2.3],[1.15,0.4],[1.17,1.6],[1.19,0.6],[1.21,1.4],[1.23,0.3],[1.25,2.2],[1.27,0.8],[1.29,1.5],[1.31,0.4],[1.33,1.2],[1.35,0.7],
  [1.38,1.5],[1.42,0.4],[1.46,0.9],[1.5,1.9],[1.54,0.6],[1.58,1.2],[1.63,0.3],[1.67,1.6],[1.72,0.8],[1.77,2.0],[1.82,0.5],[1.87,1.3],[1.92,0.7],[1.98,1.8],[2.04,0.3],[2.1,1.1],[2.16,0.6],[2.25,1.5],[2.33,0.9],[2.42,0.4],[2.52,1.3],[2.62,0.6],[2.75,1.0]];

// threshold (vertical line) and quantile regression lines (start at threshold, end at max JALSH)
const jalshThreshold = 1.38;
const jalshMax = 6.7;
const ibovQStart = [2.22, 1.44, 0.84, 0.5, 0.22];
const ibovQEnd = [2.16, 1.19, 0.63, 0.41, 0.16];
const imoexQStart = [2.75, 1.88, 1.34, 0.87, 0.4];
const imoexQEnd = [3.36, 2.48, 1.88, 1.34, 0.54];
const niftyQStart = [1.89, 1.09, 0.62, 0.33, 0.15];
const niftyQEnd = [3.6, 2.04, 1.39, 0.74, 0.2];
const shcompQStart = [2.04, 1.06, 0.74, 0.46, 0.25];
const shcompQEnd = [2.64, 1.36, 0.82, 0.41, 0.19];

// Tick labels / axis specs
const fTicks = [0.7, 0.8, 0.9, 1.0];
const fLabels = ['0.7', '0.8', '0.9', '1.0'];
const fMinor = [0.75, 0.85, 0.95];
const jTicks = [0, 2, 4, 6];
const jLabels = ['0', '2', '4', '6'];
const jMinor = [1, 3, 5, 7];
const z25Ticks = [-5, -2.5, 0, 2.5, 5];
const z25Labels = ['-5.0', '-2.5', '0.0', '2.5', '5.0'];
const z25Minor = [-3.75, -1.25, 1.25, 3.75, 6.25];

// ---------------- LAYOUT / STYLE ----------------
const FONT = "'Liberation Sans', Arial, sans-serif";
const ROW_TOP = [0, 95, 190];
const ROW_H = [95, 95, 97];
const PAD_TOP = [2, 1.7, 3.3];
const X_AXIS_H = [18, 16.7, 18];
const X_TITLE_PAD = [2, 1.8, 3];
const COL_LEFT = [0, 144, 289, 434];
const COL_W = [144, 145, 145, 138];
const PAD_RIGHT = [5.5, 9, 11, 4];
const Y_AXIS_W = [[21.7, 22.7, 17, 16], [18, 16.7, 14, 12.7], [15.5, 16, 13, 11]];

const POINT = 'rgba(100,149,237,0.5)';
const POINT3 = 'rgba(100,149,237,0.55)';

interface AxisSpec { min: number; max: number; majors: number[]; labels: string[]; minors: number[]; title: string; }

const near = (a: number, b: number) => Math.abs(a - b) < 1e-6;

function buildScale(o: AxisSpec, horizontal: boolean, size: number, titlePad: number) {
  const all = [...o.majors, ...o.minors].filter(v => v >= o.min && v <= o.max).sort((a, b) => a - b);
  const majorIdx = (v: any) => (typeof v === 'number' ? o.majors.findIndex(m => near(m, v)) : -1);
  return {
    type: 'linear',
    min: o.min,
    max: o.max,
    afterBuildTicks: (s: any) => { s.ticks = all.map(v => ({ value: v })); },
    afterFit: (s: any) => {
      if (horizontal) s.height = size; else s.width = size;
      s.paddingLeft = 0; s.paddingRight = 0; s.paddingTop = 0; s.paddingBottom = 0;
    },
    ticks: {
      autoSkip: false, maxRotation: 0, minRotation: 0,
      padding: horizontal ? 0.5 : 1,
      color: '#4D4D4D',
      font: { family: FONT, size: 5.3 },
      callback: (v: any) => { const i = majorIdx(v); return i >= 0 ? o.labels[i] : ''; },
    },
    grid: {
      color: '#FFFFFF',
      lineWidth: (c: any) => (c.tick && majorIdx(c.tick.value) < 0 ? 0.5 : 1),
      drawTicks: true,
      tickLength: 2,
      tickWidth: 0.8,
      tickColor: (c: any) => (c.tick && majorIdx(c.tick.value) >= 0 ? '#333333' : 'rgba(0,0,0,0)'),
    },
    border: { display: false },
    title: { display: true, text: o.title, color: '#000000', font: { family: FONT, size: 6.5 }, padding: { top: 0, bottom: titlePad } },
  };
}

const panelBg = {
  id: 'panelBg',
  beforeDraw(chart: any) {
    const { ctx, chartArea: a } = chart;
    ctx.save();
    ctx.fillStyle = '#EBEBEB';
    ctx.fillRect(a.left, a.top, a.right - a.left, a.bottom - a.top);
    ctx.restore();
  },
};

const toXY = (pts: Pt[]) => pts.map(([x, y]) => ({ x, y }));
const absDev = (pts: Pt[]): Pt[] => {
  const m = pts.reduce((s, p) => s + p[1], 0) / pts.length;
  return pts.map(([x, y]) => [x, Math.abs(y - m)] as Pt);
};

function loessSets(pts: Pt[], fit: number[], se: number[]) {
  return [
    { type: 'line', data: smoothF.map((x, i) => ({ x, y: fit[i] })), borderColor: '#0000FF', borderWidth: 1.8, pointRadius: 0, cubicInterpolationMode: 'monotone', fill: false },
    { type: 'line', data: smoothF.map((x, i) => ({ x, y: fit[i] + se[i] })), borderColor: 'rgba(0,0,0,0)', borderWidth: 0, pointRadius: 0, cubicInterpolationMode: 'monotone', fill: '+1', backgroundColor: 'rgba(255,165,0,0.45)' },
    { type: 'line', data: smoothF.map((x, i) => ({ x, y: fit[i] - se[i] })), borderColor: 'rgba(0,0,0,0)', borderWidth: 0, pointRadius: 0, cubicInterpolationMode: 'monotone', fill: false },
    { type: 'scatter', data: toXY(pts), pointRadius: 1.5, backgroundColor: POINT, borderWidth: 0 },
  ];
}

function quantSets(pts: Pt[], qs: number[], qe: number[], ymin: number, ymax: number) {
  return [
    { type: 'line', data: [{ x: jalshThreshold, y: ymin }, { x: jalshThreshold, y: ymax }], borderColor: 'rgba(60,60,60,0.75)', borderWidth: 1.6, pointRadius: 0, fill: false },
    ...qs.map((s, i) => ({ type: 'line', data: [{ x: jalshThreshold, y: s }, { x: jalshMax, y: qe[i] }], borderColor: 'rgba(20,20,255,0.9)', borderWidth: 0.9, borderDash: [2.5, 1.5], pointRadius: 0, fill: false })),
    { type: 'scatter', data: toXY(pts), pointRadius: 1.5, backgroundColor: POINT3, borderWidth: 0 },
  ];
}

const row1Y: AxisSpec[] = [
  { min: -5.8, max: 7.2, majors: z25Ticks, labels: z25Labels, minors: z25Minor, title: 'Z  IBOV | JALSH' },
  { min: -6.0, max: 5.2, majors: z25Ticks, labels: z25Labels, minors: z25Minor, title: 'Z  IMOEX | JALSH' },
  { min: -4.2, max: 4.2, majors: [-4, -2, 0, 2, 4], labels: ['-4', '-2', '0', '2', '4'], minors: [-3, -1, 1, 3], title: 'Z  NIFTY | JALSH' },
  { min: -4.35, max: 6.5, majors: [-4, -2, 0, 2, 4, 6], labels: ['-4', '-2', '0', '2', '4', '6'], minors: [-3, -1, 1, 3, 5], title: 'Z  SHCOMP | JALSH' },
];
const row2Y: AxisSpec[] = [
  { min: -0.32, max: 6.8, majors: [0, 2, 4, 6], labels: ['0', '2', '4', '6'], minors: [1, 3, 5], title: '|Z - mean(Z)|  IBOV | JALSH' },
  { min: -0.27, max: 5.85, majors: [0, 2, 4], labels: ['0', '2', '4'], minors: [1, 3, 5], title: '|Z - mean(Z)|  IMOEX | JALSH' },
  { min: -0.2, max: 4.3, majors: [0, 1, 2, 3, 4], labels: ['0', '1', '2', '3', '4'], minors: [0.5, 1.5, 2.5, 3.5], title: '|Z - mean(Z)|  NIFTY | JALSH' },
  { min: -0.28, max: 6.3, majors: [0, 2, 4, 6], labels: ['0', '2', '4', '6'], minors: [1, 3, 5], title: '|Z - mean(Z)|  SHCOMP | JALSH' },
];
const row3Y: AxisSpec[] = [
  { min: -0.32, max: 6.75, majors: [0, 2, 4, 6], labels: ['0', '2', '4', '6'], minors: [1, 3, 5], title: 'IBOV' },
  { min: -0.7, max: 14.6, majors: [0, 5, 10], labels: ['0', '5', '10'], minors: [2.5, 7.5, 12.5], title: 'IMOEX' },
  { min: -0.3, max: 6.4, majors: [0, 2, 4, 6], labels: ['0', '2', '4', '6'], minors: [1, 3, 5], title: 'NIFTY' },
  { min: -0.28, max: 5.85, majors: [0, 2, 4], labels: ['0', '2', '4'], minors: [1, 3, 5], title: 'SHCOMP' },
];
const fAxis: AxisSpec = { min: 0.685, max: 1.01, majors: fTicks, labels: fLabels, minors: fMinor, title: 'F(JALSH)' };
const jAxis: AxisSpec = { min: -0.34, max: 7.1, majors: jTicks, labels: jLabels, minors: jMinor, title: 'JALSH' };

const zSets = [ibovZ.concat(ibovZMore), imoexZ.concat(imoexZMore), niftyZ.concat(niftyZMore), shcompZ.concat(shcompZMore)];
const fit1 = [ibovFit1, imoexFit1, niftyFit1, shcompFit1];
const se1 = [ibovSe1, imoexSe1, niftySe1, shcompSe1];
const fit2 = [ibovFit2, imoexFit2, niftyFit2, shcompFit2];
const se2 = [ibovSe2, imoexSe2, niftySe2, shcompSe2];
const jSets = [ibovJ.concat(ibovJMore), imoexJ.concat(imoexJMore), niftyJ.concat(niftyJMore), shcompJ.concat(shcompJMore)];
const qStarts = [ibovQStart, imoexQStart, niftyQStart, shcompQStart];
const qEnds = [ibovQEnd, imoexQEnd, niftyQEnd, shcompQEnd];

interface PanelCfg { key: string; row: number; col: number; xAxis: AxisSpec; yAxis: AxisSpec; datasets: any[]; }

const panels: PanelCfg[] = [];
markets.forEach((m, c) => {
  panels.push({ key: m + '1', row: 0, col: c, xAxis: fAxis, yAxis: row1Y[c], datasets: loessSets(zSets[c], fit1[c], se1[c]) });
  panels.push({ key: m + '2', row: 1, col: c, xAxis: fAxis, yAxis: row2Y[c], datasets: loessSets(absDev(zSets[c]), fit2[c], se2[c]) });
  panels.push({ key: m + '3', row: 2, col: c, xAxis: jAxis, yAxis: row3Y[c], datasets: quantSets(jSets[c], qStarts[c], qEnds[c], row3Y[c].min, row3Y[c].max) });
});

function Panel({ cfg }: { cfg: PanelCfg }) {
  const ref = useRef<HTMLCanvasElement>(null);
  const w = COL_W[cfg.col];
  const h = ROW_H[cfg.row];
  useEffect(() => {
    if (!ref.current) return;
    const chart = new Chart(ref.current, {
      type: 'scatter',
      data: { datasets: cfg.datasets },
      options: {
        responsive: false,
        animation: false,
        events: [],
        layout: { padding: { top: PAD_TOP[cfg.row], right: PAD_RIGHT[cfg.col], left: 0, bottom: 0 } },
        plugins: { legend: { display: false }, tooltip: { enabled: false } },
        scales: {
          x: buildScale(cfg.xAxis, true, X_AXIS_H[cfg.row], X_TITLE_PAD[cfg.row]),
          y: buildScale(cfg.yAxis, false, Y_AXIS_W[cfg.row][cfg.col], 0),
        },
      } as any,
      plugins: [panelBg],
    } as any);
    return () => chart.destroy();
  }, []);
  return (
    <div style={{ position: 'absolute', left: COL_LEFT[cfg.col], top: ROW_TOP[cfg.row], width: w, height: h }}>
      <canvas ref={ref} width={w} height={h} style={{ width: w, height: h, display: 'block' }} />
    </div>
  );
}

export default function App() {
  useEffect(() => { document.body.style.margin = '0'; document.body.style.background = '#FFFFFF'; }, []);
  return (
    <div style={{ position: 'relative', width: 572, height: 287, overflow: 'hidden', background: '#FFFFFF' }}>
      {panels.map(p => <Panel key={p.key} cfg={p} />)}
    </div>
  );
}
